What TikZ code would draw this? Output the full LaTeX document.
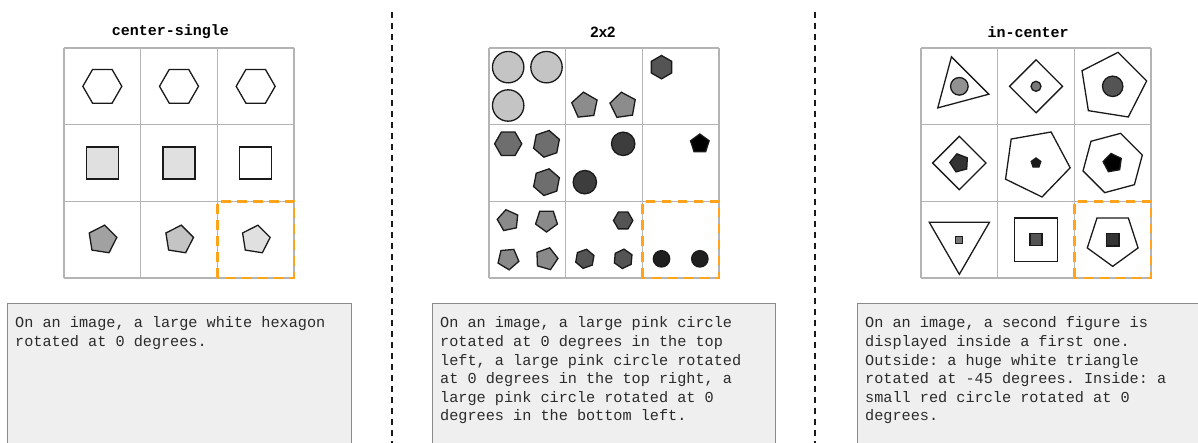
\documentclass[tikz,border=0pt]{standalone}
\usepackage{fontspec}
\setmonofont{Liberation Mono}
\newfontfamily\titlesans{Liberation Sans}
\usepackage{tikz}

\definecolor{gridgray}{HTML}{B4B4B4}
\definecolor{pickorange}{HTML}{FFA31A}
\definecolor{boxfill}{HTML}{EFEFEF}
\definecolor{boxline}{HTML}{8A8A8A}
\definecolor{txtgray}{HTML}{2B2B2B}
\definecolor{edge}{HTML}{1A1A1A}

\tikzset{
  fig/.style={draw=edge, line width=1.3pt, line join=miter},
  cellgrid/.style={draw=gridgray, line width=1.2pt},
  pick/.style={draw=pickorange, line width=2.8pt, dash pattern=on 9.5pt off 6.5pt},
  divider/.style={draw=edge, line width=2pt, dash pattern=on 5.6pt off 5.4pt},
  txtbox/.style={fill=boxfill, draw=boxline, line width=1pt},
  title/.style={font=\ttfamily\bfseries\fontsize{15}{18}\selectfont, inner sep=0pt},
  desc/.style={font=\ttfamily\fontsize{15.2}{18.6}\selectfont, text=txtgray, align=left, inner sep=0pt, anchor=base west}
}

% regular polygon: sides, centre, radius, start angle, fill
\newcommand{\ngon}[5]{%
  \filldraw[fig, fill=#5] ([shift={(#2)}]#4:#3)
    \foreach \k [evaluate=\k as \ang using #4+(\k-1)*360/#1] in {2,...,#1} {-- ([shift={(#2)}]\ang:#3)} -- cycle;}

\begin{document}
\begin{tikzpicture}[x=1pt,y=1pt]
\useasboundingbox (0,0) rectangle (1198,443);
\clip (0,0) rectangle (1198,443);

% Dividers
\draw[divider] (392,431) -- (392,0);
\draw[divider] (815,431) -- (815,0);

% Titles
\node[title] (titleA) at (170.5,411) {center-single};
\node[title, font=\titlesans\bfseries\fontsize{15}{18}\selectfont] (titleB) at (603,411) {2x2};
\node[title] (titleC) at (1028,411) {in-center};

% Grids
\foreach \gx in {64,489,921}
  \draw[cellgrid, shift={(\gx,165)}] (0,0) grid[step=76.66] (230,230);

% Panel: center-single
\ngon{6}{102.33,356.67}{19.5}{0}{white}
\ngon{6}{179,356.67}{19.5}{0}{white}
\ngon{6}{255.67,356.67}{19.5}{0}{white}
\ngon{4}{102.33,280}{22.6}{45}{black!12}
\ngon{4}{179,280}{22.6}{45}{black!12}
\ngon{4}{255.67,280}{22.6}{45}{white}
\ngon{5}{102.33,203.33}{14.7}{9}{black!37}
\ngon{5}{179,203.33}{14.7}{9}{black!23}
\ngon{5}{255.67,203.33}{14.7}{9}{black!12}
\draw[pick] (217.67,165) rectangle (294,241.67);

% Panel: 2x2
\filldraw[fig, fill=black!23] (508.17,375.83) circle (15.7);
\filldraw[fig, fill=black!23] (546.5,375.83) circle (15.7);
\filldraw[fig, fill=black!23] (508.17,337.5) circle (15.7);
\ngon{5}{584.83,337.5}{13.4}{24}{black!45}
\ngon{5}{623.17,337.5}{13.4}{26}{black!45}
\ngon{6}{661.5,375.83}{11.7}{30}{black!67}
\ngon{6}{508.17,299.17}{13.6}{0}{black!57}
\ngon{6}{546.5,299.17}{13.6}{19}{black!57}
\ngon{6}{546.5,260.83}{13.6}{19}{black!57}
\filldraw[fig, fill=black!76] (623.17,299.17) circle (11.7);
\filldraw[fig, fill=black!76] (584.83,260.83) circle (11.7);
\ngon{5}{699.83,299.17}{9.8}{90}{black}
\ngon{5}{508.17,222.5}{11}{30}{black!46}
\ngon{5}{546.5,222.5}{11.5}{-90}{black!46}
\ngon{5}{508.17,184.17}{11}{59}{black!46}
\ngon{5}{546.5,184.17}{11.5}{2}{black!46}
\ngon{6}{623.17,222.5}{9.7}{0}{black!67}
\ngon{6}{584.83,184.17}{9.7}{20}{black!67}
\ngon{6}{623.17,184.17}{9.7}{25}{black!67}
\filldraw[fig, fill=black!88] (661.5,184.17) circle (8.2);
\filldraw[fig, fill=black!88] (699.83,184.17) circle (8.2);
\draw[pick] (642.33,165) rectangle (719,241.67);

% Panel: in-center
\ngon{3}{959.33,356.67}{30.5}{105}{white}
\filldraw[fig, fill=black!43] (959.33,356.67) circle (8.8);
\ngon{4}{1036,356.67}{26.5}{90}{white}
\filldraw[fig, fill=black!53] (1036,356.67) circle (5);
\ngon{5}{1112.67,356.67}{34.4}{81}{white}
\filldraw[fig, fill=black!67] (1112.67,356.67) circle (10.2);
\ngon{4}{959.33,280}{26.7}{90}{white}
\ngon{5}{959.33,280}{9.5}{105}{black!80}
\ngon{5}{1036,280}{34.5}{-8}{white}
\ngon{5}{1036,280}{5}{90}{black!90}
\ngon{6}{1112.67,280}{30.7}{15}{white}
\ngon{5}{1112.67,280}{9.7}{100}{black}
\ngon{3}{959.33,203.33}{34.7}{-90}{white}
\ngon{4}{959.33,203.33}{4.95}{45}{black!53}
\ngon{4}{1036,203.33}{30.6}{45}{white}
\ngon{4}{1036,203.33}{8.3}{45}{black!67}
\ngon{5}{1112.67,203.33}{26.7}{-90}{white}
\ngon{4}{1112.67,203.33}{9}{45}{black!80}
\draw[pick] (1074.33,165) rectangle (1151,241.67);

% Descriptions (base = last line)
\draw[txtbox] (7,139) rectangle (351,-5);
\draw[txtbox] (432,139) rectangle (775,-5);
\draw[txtbox] (857,139) rectangle (1200,-5);
\node[desc] (descA) at (15,96.4) {On an image, a large white hexagon\\rotated at 0 degrees.};
\node[desc] (descB) at (440,22) {On an image, a large pink circle\\rotated at 0 degrees in the top\\left, a large pink circle rotated\\at 0 degrees in the top right, a\\large pink circle rotated at 0\\degrees in the bottom left.};
\node[desc] (descC) at (865,22) {On an image, a second figure is\\displayed inside a first one.\\Outside: a huge white triangle\\rotated at -45 degrees. Inside: a\\small red circle rotated at 0\\degrees.};
\end{tikzpicture}
\end{document}
